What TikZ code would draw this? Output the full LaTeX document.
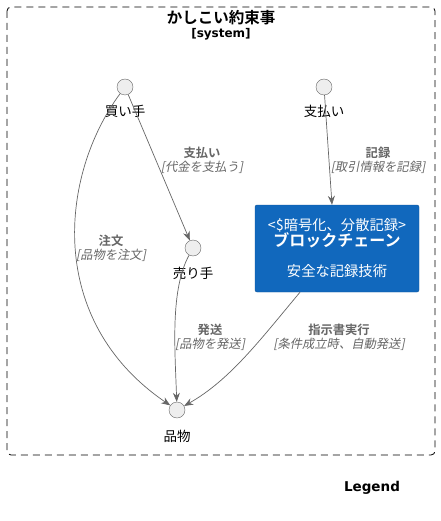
\documentclass[tikz,border=0pt]{standalone}
\usepackage{fontspec}
\setmainfont{Noto Sans CJK JP}[BoldFont=Noto Sans CJK JP Bold, ItalicFont=Noto Sans CJK JP, ItalicFeatures={FakeSlant=0.2}]
\newfontfamily\latinfont{DejaVu Sans}
\usepackage{tikz}
\usetikzlibrary{arrows.meta}
\usetikzlibrary{positioning}
\definecolor{edgegray}{HTML}{666666}
\definecolor{c4blue}{HTML}{1168BD}
\definecolor{persongray}{HTML}{EEEEEE}

\begin{document}
\begin{tikzpicture}[>={Stealth[length=9pt,width=7pt]},x=1pt,y=-1pt,
  person/.style={circle,draw=edgegray,fill=persongray,minimum size=16pt,inner sep=0pt},
  who/.style={font=\fontsize{13.5}{15}\selectfont,inner sep=1pt},
  rel/.style={->,draw=edgegray,line width=0.7pt},
  tag/.style={align=center,text=edgegray,font=\fontsize{12.3}{14}\selectfont,inner sep=0pt}]

  \useasboundingbox (0,0) rectangle (440,521);
  % \draw system boundary
  \draw[dash pattern=on 7pt off 5pt,rounded corners=4pt,line width=0.8pt] (7,7) rectangle (435,455);
  \node[font=\fontsize{15.5}{17}\selectfont\bfseries] (title) at (221,18) {かしこい約束事};
  \node[font=\fontsize{12}{14}\selectfont\latinfont\bfseries] (kind) at (221,34) {[system]};

  % \draw persons
  \node[person] (buyer) at (125,87) {};
  \node[who] (buyerlabel) at (125,111) {買い手};
  \node[person] (pay) at (324,87) {};
  \node[who] (paylabel) at (324,111) {支払い};
  \node[person] (seller) at (193,248) {};
  \node[who] (sellerlabel) at (193,273) {売り手};
  \node[person] (goods) at (177,410) {};
  \node[who] (goodslabel) at (177,436) {品物};

  % \draw blockchain box
  \node[fill=c4blue,draw=c4blue!80!black,rounded corners=2pt,minimum width=164pt,minimum height=87pt,
        text=white,align=center,font=\fontsize{14.3}{17}\selectfont] (block) at (337,248.5)
        {<\$暗号化、分散記録>\\[-1pt]{\fontsize{16}{18}\selectfont\bfseries ブロックチェーン}\\[13pt]安全な記録技術};

  % \draw relations
  \draw[rel] (buyer) -- (seller);
  \draw[rel] (pay) -- ([xshift=-5pt]block.north);
  \draw[rel] (buyer) .. controls (60,175) and (45,320) .. (goods);
  \draw[rel] (seller) .. controls (170,290) and (175,350) .. (goods);
  \draw[rel] ([xshift=-37pt]block.south) .. controls (260,340) and (230,380) .. (goods);

  % \draw relation labels
  \node[tag] (paytag) at (202,160) {\textbf{支払い}\\\textit{[代金を支払う]}};
  \node[tag] (logtag) at (378,160) {\textbf{記録}\\\textit{[取引情報を記録]}};
  \node[tag] (ordertag) at (111,248) {\textbf{注文}\\\textit{[品物を注文]}};
  \node[tag] (shiptag) at (210,337) {\textbf{発送}\\\textit{[品物を発送]}};
  \node[tag] (runtag) at (339,337) {\textbf{指示書実行}\\\textit{[条件成立時、自動発送]}};

  \node[font=\fontsize{13.5}{15}\selectfont\latinfont\bfseries] (legend) at (372,488) {Legend};
\end{tikzpicture}
\end{document}
